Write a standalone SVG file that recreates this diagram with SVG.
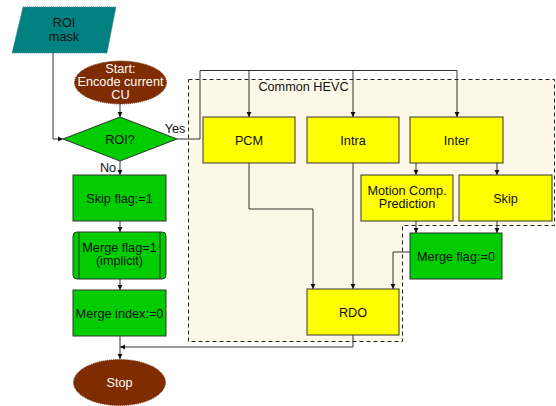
<svg xmlns="http://www.w3.org/2000/svg" width="556" height="406" viewBox="0 0 556 406">
<defs>
<marker id="ah" markerWidth="6" markerHeight="6" refX="5" refY="3" orient="auto" markerUnits="userSpaceOnUse">
<path d="M0,0.5 L5,3 L0,5.5 Z" fill="#111"/>
</marker>
</defs>
<style>
text{font-family:"Liberation Sans",Arial,sans-serif;font-size:12.7px;text-anchor:middle;fill:#111}
.box{stroke:#333;stroke-width:1}
.y{fill:#ffff00}
.g{fill:#00cc00}
.br{fill:#7f2c00;stroke:#6a2500;stroke-dasharray:1 1}
.c{fill:none;stroke:#333;stroke-width:1}
.ca{fill:none;stroke:#333;stroke-width:1;marker-end:url(#ah)}
.dash{stroke:#222;stroke-width:1;stroke-dasharray:4 3}
.wt{fill:#fff}
</style>
<rect width="556" height="406" fill="#fff"/>
<g id="common-hevc">
<path class="dash" d="M188.5,79.5 H554.5 V225.5 H402.5 V341.5 H188.5 Z" fill="#fdf8e8"/>
<text x="303.5" y="91">Common HEVC</text>
</g>
<g id="connectors">
<path class="ca" d="M53,53 V139 H63"/>
<path class="ca" d="M120,104 V117"/>
<path class="c" d="M177,139 H200 V70.5 H457"/>
<path class="ca" d="M249,70.5 V117"/>
<path class="ca" d="M353,70.5 V117"/>
<path class="ca" d="M457,70.5 V117"/>
<path class="ca" d="M416,163 V175"/>
<path class="ca" d="M497,163 V175"/>
<path class="ca" d="M416,221 V233"/>
<path class="ca" d="M497,221 V233"/>
<path class="ca" d="M410,252 H393 V289"/>
<path class="ca" d="M249,163 V209 H313 V289"/>
<path class="ca" d="M353,163 V289"/>
<path class="ca" d="M353,335 V347 H120"/>
<path class="ca" d="M120,161 V175"/>
<path class="ca" d="M120,221 V232"/>
<path class="ca" d="M120,279 V290"/>
<path class="ca" d="M120,336 V359"/>
<text x="175" y="133">Yes</text>
<text x="108" y="172">No</text>
</g>
<g id="roi-mask">
<path d="M23,7 H116 L107,53 H12 Z" fill="#008080" stroke="#4a8a8a" stroke-dasharray="1 1"/>
<text x="64" y="27">ROI</text>
<text x="64" y="41">mask</text>
</g>
<g id="start">
<ellipse class="br" cx="120.5" cy="82.5" rx="46" ry="21.5"/>
<text class="wt" x="120.5" y="73">Start:</text>
<text class="wt" x="120.5" y="86">Encode current</text>
<text class="wt" x="120.5" y="99">CU</text>
</g>
<g id="roi">
<path class="box g" d="M63,139 L120,117 L177,139 L120,161 Z"/>
<text x="120" y="143.5">ROI?</text>
</g>
<g id="pcm">
<rect class="box y" x="203" y="117" width="92" height="46"/>
<text x="249" y="144.5">PCM</text>
</g>
<g id="intra">
<rect class="box y" x="307" y="117" width="92" height="46"/>
<text x="353" y="144.5">Intra</text>
</g>
<g id="inter">
<rect class="box y" x="410" y="117" width="93" height="46"/>
<text x="456.5" y="144.5">Inter</text>
</g>
<g id="motion-comp">
<rect class="box y" x="361" y="175" width="92" height="46"/>
<text x="407" y="195">Motion Comp.</text>
<text x="407" y="208">Prediction</text>
</g>
<g id="skip">
<rect class="box y" x="459" y="175" width="93" height="46"/>
<text x="505.5" y="202.5">Skip</text>
</g>
<g id="merge-flag-0">
<rect class="box g" x="410" y="233" width="92" height="46"/>
<text x="456" y="260.5">Merge flag:=0</text>
</g>
<g id="rdo">
<rect class="box y" x="307" y="289" width="92" height="46"/>
<text x="353" y="316.5">RDO</text>
</g>
<g id="skip-flag-1">
<rect class="box g" x="73" y="175" width="93" height="46"/>
<text x="119.5" y="202.5">Skip flag:=1</text>
</g>
<g id="merge-flag-1">
<rect class="box g" x="73" y="232" width="93" height="47" rx="4"/>
<line class="box" x1="79" y1="232" x2="79" y2="279"/>
<line class="box" x1="160" y1="232" x2="160" y2="279"/>
<text x="119.5" y="252">Merge flag=1</text>
<text x="119.5" y="265">(implicit)</text>
</g>
<g id="merge-index-0">
<rect class="box g" x="73" y="290" width="93" height="46"/>
<text x="119.5" y="317.5">Merge index:=0</text>
</g>
<g id="stop">
<ellipse class="br" cx="119.5" cy="382.5" rx="46" ry="23"/>
<text class="wt" x="119.5" y="387">Stop</text>
</g>
</svg>
